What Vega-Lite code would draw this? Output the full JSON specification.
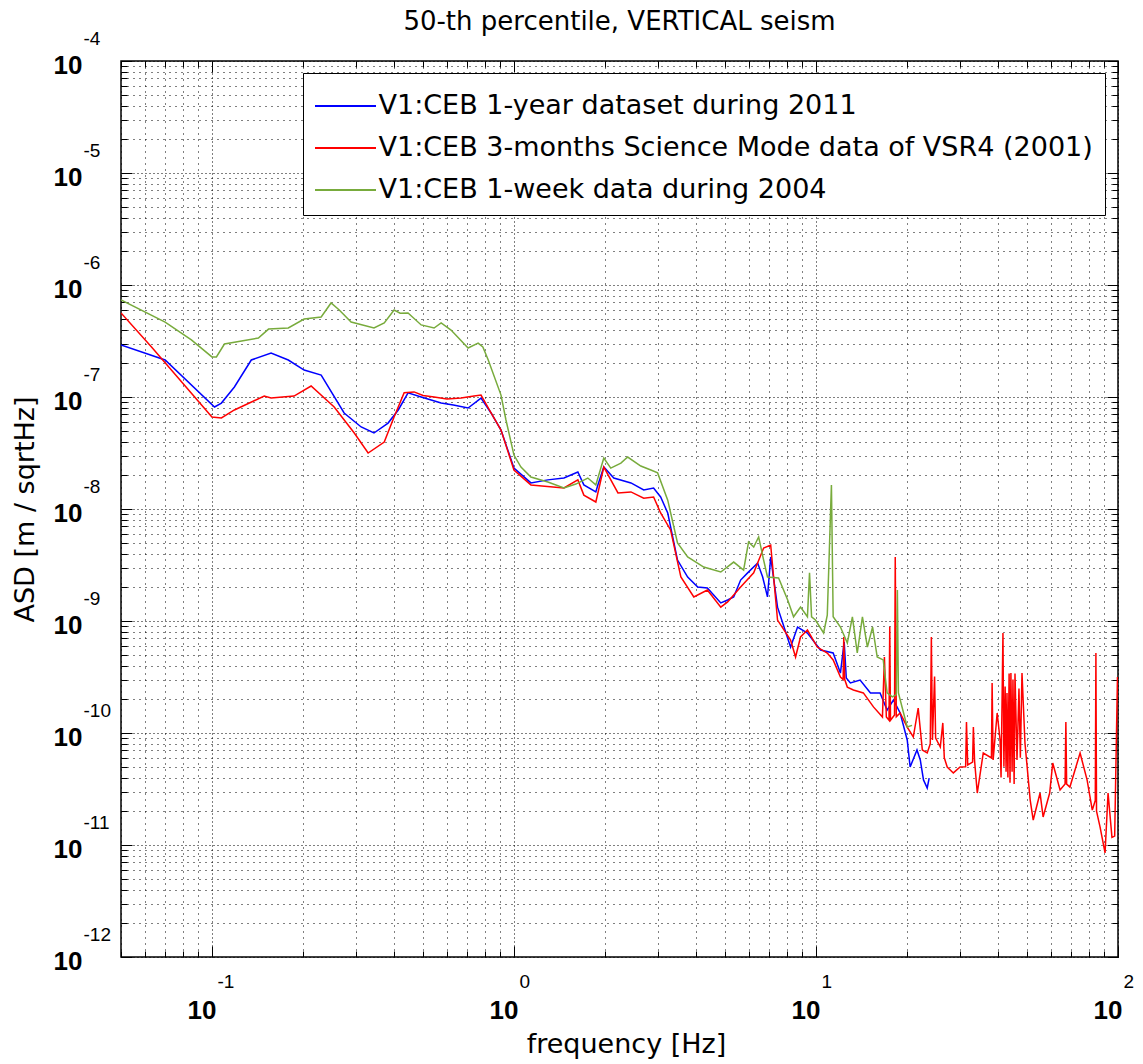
{
"$schema": "https://vega.github.io/schema/vega-lite/v6.json",
"width": 997, "height": 896,
"autosize": {"type": "none"},
"padding": {"left": 121, "top": 61, "right": 25, "bottom": 107},
"background": "white",
"title": {"text": "50-th percentile, VERTICAL seism", "font": "DejaVu Sans", "fontSize": 26, "fontWeight": "normal", "color": "black", "anchor": "middle", "offset": -6},
"data": {"values": [
{"s":"b","f":0.05,"a":2.91e-7},{"s":"b","f":0.07,"a":2.14e-7},{"s":"b","f":0.102,"a":8.14e-8},{"s":"b","f":0.1075,"a":8.83e-8},{"s":"b","f":0.1187,"a":1.228e-7},{"s":"b","f":0.135,"a":2.14e-7},{"s":"b","f":0.157,"a":2.47e-7},{"s":"b","f":0.179,"a":2.14e-7},{"s":"b","f":0.202,"a":1.74e-7},{"s":"b","f":0.23,"a":1.57e-7},{"s":"b","f":0.274,"a":7.2e-8},{"s":"b","f":0.312,"a":5.4e-8},{"s":"b","f":0.344,"a":4.77e-8},{"s":"b","f":0.383,"a":5.85e-8},{"s":"b","f":0.414,"a":7.66e-8},{"s":"b","f":0.446,"a":1.09e-7},{"s":"b","f":0.493,"a":1.0e-7},{"s":"b","f":0.574,"a":8.83e-8},{"s":"b","f":0.63,"a":8.5e-8},{"s":"b","f":0.705,"a":7.98e-8},{"s":"b","f":0.778,"a":9.78e-8},{"s":"b","f":0.84,"a":7.2e-8},{"s":"b","f":0.906,"a":5.07e-8},{"s":"b","f":1.0,"a":2.32e-8},{"s":"b","f":1.138,"a":1.71e-8},{"s":"b","f":1.295,"a":1.82e-8},{"s":"b","f":1.464,"a":1.89e-8},{"s":"b","f":1.628,"a":2.14e-8},{"s":"b","f":1.704,"a":1.64e-8},{"s":"b","f":1.867,"a":1.42e-8},{"s":"b","f":1.896,"a":1.64e-8},{"s":"b","f":1.984,"a":2.37e-8},{"s":"b","f":2.141,"a":1.89e-8},{"s":"b","f":2.44,"a":1.71e-8},{"s":"b","f":2.69,"a":1.48e-8},{"s":"b","f":2.9,"a":1.54e-8},{"s":"b","f":3.06,"a":1.28e-8},{"s":"b","f":3.23,"a":9.21e-9},{"s":"b","f":3.48,"a":3.5e-9},{"s":"b","f":3.76,"a":2.47e-9},{"s":"b","f":4.06,"a":2.01e-9},{"s":"b","f":4.37,"a":1.97e-9},{"s":"b","f":4.84,"a":1.45e-9},{"s":"b","f":5.1,"a":1.54e-9},{"s":"b","f":5.34,"a":1.64e-9},{"s":"b","f":5.63,"a":2.32e-9},{"s":"b","f":5.94,"a":2.69e-9},{"s":"b","f":6.41,"a":3.29e-9},{"s":"b","f":6.66,"a":2.47e-9},{"s":"b","f":6.91,"a":1.64e-9},{"s":"b","f":7.08,"a":3.73e-9},{"s":"b","f":7.46,"a":1.33e-9},{"s":"b","f":8.24,"a":5.85e-10},{"s":"b","f":8.69,"a":8.83e-10},{"s":"b","f":9.37,"a":7.81e-10},{"s":"b","f":10.35,"a":5.51e-10},{"s":"b","f":11.4,"a":5.18e-10},{"s":"b","f":12.05,"a":3.43e-10},{"s":"b","f":12.4,"a":6.5e-10},{"s":"b","f":12.6,"a":3.1e-10},{"s":"b","f":13.0,"a":2.8e-10},{"s":"b","f":14.0,"a":2.97e-10},{"s":"b","f":15.15,"a":2.28e-10},{"s":"b","f":16.3,"a":2.28e-10},{"s":"b","f":17.2,"a":1.6e-10},{"s":"b","f":18.05,"a":1.97e-10},{"s":"b","f":19.0,"a":1.51e-10},{"s":"b","f":20.05,"a":8.66e-11},{"s":"b","f":20.5,"a":4.97e-11},{"s":"b","f":21.6,"a":7.05e-11},{"s":"b","f":22.15,"a":5.74e-11},{"s":"b","f":22.7,"a":3.81e-11},{"s":"b","f":23.35,"a":3.23e-11},{"s":"b","f":23.7,"a":3.96e-11},
{"s":"r","f":0.05,"a":5.63e-7},{"s":"r","f":0.0631,"a":2.8e-7},{"s":"r","f":0.1,"a":6.63e-8},{"s":"r","f":0.1075,"a":6.5e-8},{"s":"r","f":0.1187,"a":7.66e-8},{"s":"r","f":0.149,"a":1.02e-7},{"s":"r","f":0.157,"a":9.78e-8},{"s":"r","f":0.187,"a":1.02e-7},{"s":"r","f":0.213,"a":1.254e-7},{"s":"r","f":0.254,"a":8.14e-8},{"s":"r","f":0.296,"a":4.77e-8},{"s":"r","f":0.329,"a":3.16e-8},{"s":"r","f":0.372,"a":3.96e-8},{"s":"r","f":0.401,"a":6.63e-8},{"s":"r","f":0.433,"a":1.09e-7},{"s":"r","f":0.467,"a":1.11e-7},{"s":"r","f":0.5,"a":1.03e-7},{"s":"r","f":0.544,"a":1.0e-7},{"s":"r","f":0.6,"a":9.6e-8},{"s":"r","f":0.668,"a":9.78e-8},{"s":"r","f":0.738,"a":1.02e-7},{"s":"r","f":0.778,"a":1.04e-7},{"s":"r","f":0.84,"a":7.2e-8},{"s":"r","f":0.906,"a":5.07e-8},{"s":"r","f":1.0,"a":2.23e-8},{"s":"r","f":1.138,"a":1.64e-8},{"s":"r","f":1.464,"a":1.54e-8},{"s":"r","f":1.628,"a":1.82e-8},{"s":"r","f":1.704,"a":1.33e-8},{"s":"r","f":1.867,"a":1.155e-8},{"s":"r","f":1.984,"a":2.37e-8},{"s":"r","f":2.21,"a":1.39e-8},{"s":"r","f":2.44,"a":1.42e-8},{"s":"r","f":2.69,"a":1.25e-8},{"s":"r","f":2.9,"a":1.28e-8},{"s":"r","f":3.06,"a":9.21e-9},{"s":"r","f":3.3,"a":6.5e-9},{"s":"r","f":3.57,"a":2.47e-9},{"s":"r","f":3.94,"a":1.64e-9},{"s":"r","f":4.37,"a":1.89e-9},{"s":"r","f":4.84,"a":1.33e-9},{"s":"r","f":5.1,"a":1.48e-9},{"s":"r","f":5.63,"a":2.01e-9},{"s":"r","f":6.22,"a":2.69e-9},{"s":"r","f":6.71,"a":4.49e-9},{"s":"r","f":7.08,"a":4.77e-9},{"s":"r","f":7.46,"a":1.02e-9},{"s":"r","f":8.24,"a":6.77e-10},{"s":"r","f":8.56,"a":4.77e-10},{"s":"r","f":8.89,"a":7.2e-10},{"s":"r","f":9.37,"a":8.31e-10},{"s":"r","f":10.1,"a":5.85e-10},{"s":"r","f":10.9,"a":5.18e-10},{"s":"r","f":11.4,"a":4.49e-10},{"s":"r","f":12.05,"a":3.16e-10},{"s":"r","f":12.3,"a":3.0e-10},{"s":"r","f":12.36,"a":7.2e-10},{"s":"r","f":12.45,"a":3.0e-10},{"s":"r","f":12.7,"a":2.57e-10},{"s":"r","f":13.3,"a":2.42e-10},{"s":"r","f":14.35,"a":2.28e-10},{"s":"r","f":15.5,"a":1.71e-10},{"s":"r","f":16.6,"a":1.39e-10},{"s":"r","f":16.85,"a":4.77e-10},{"s":"r","f":17.1,"a":1.39e-10},{"s":"r","f":17.45,"a":1.3e-10},{"s":"r","f":17.55,"a":8.9e-10},{"s":"r","f":17.65,"a":1.3e-10},{"s":"r","f":18.2,"a":1.45e-10},{"s":"r","f":18.3,"a":3.73e-9},{"s":"r","f":18.45,"a":1.4e-10},{"s":"r","f":19.0,"a":1.51e-10},{"s":"r","f":20.05,"a":1.13e-10},{"s":"r","f":21.0,"a":9.21e-11},{"s":"r","f":21.8,"a":1.67e-10},{"s":"r","f":22.5,"a":7.05e-11},{"s":"r","f":23.35,"a":6.63e-11},{"s":"r","f":23.9,"a":8e-11},{"s":"r","f":24.1,"a":7.2e-10},{"s":"r","f":24.3,"a":8.66e-11},{"s":"r","f":24.7,"a":3.2e-10},{"s":"r","f":24.9,"a":9e-11},{"s":"r","f":25.8,"a":7.5e-11},{"s":"r","f":26.3,"a":1.23e-10},{"s":"r","f":26.6,"a":6e-11},{"s":"r","f":27.2,"a":4.97e-11},{"s":"r","f":28.5,"a":4.4e-11},{"s":"r","f":30.0,"a":4.97e-11},{"s":"r","f":31.3,"a":5e-11},{"s":"r","f":31.5,"a":1.254e-10},{"s":"r","f":31.8,"a":5.18e-11},{"s":"r","f":33.0,"a":5.5e-11},{"s":"r","f":33.2,"a":1.13e-10},{"s":"r","f":33.5,"a":5.7e-11},{"s":"r","f":34.2,"a":2.91e-11},{"s":"r","f":35.8,"a":6.63e-11},{"s":"r","f":38.1,"a":6e-11},{"s":"r","f":38.3,"a":2.8e-10},{"s":"r","f":38.6,"a":5.74e-11},{"s":"r","f":39.8,"a":1.51e-10},{"s":"r","f":40.7,"a":8.66e-11},{"s":"r","f":41.0,"a":4.0e-11},{"s":"r","f":41.6,"a":7.81e-10},{"s":"r","f":41.9,"a":5e-11},{"s":"r","f":42.3,"a":2.6e-10},{"s":"r","f":42.6,"a":4.5e-11},{"s":"r","f":42.9,"a":2.28e-10},{"s":"r","f":43.2,"a":4e-11},{"s":"r","f":43.6,"a":3.4e-10},{"s":"r","f":43.9,"a":3.6e-11},{"s":"r","f":44.2,"a":3.43e-10},{"s":"r","f":44.6,"a":4.5e-11},{"s":"r","f":44.9,"a":3.0e-10},{"s":"r","f":45.3,"a":3.5e-11},{"s":"r","f":45.6,"a":3.4e-10},{"s":"r","f":46.3,"a":5.74e-11},{"s":"r","f":47.0,"a":2.5e-10},{"s":"r","f":47.5,"a":6e-11},{"s":"r","f":48.1,"a":3.43e-10},{"s":"r","f":49.2,"a":8.14e-11},{"s":"r","f":51.2,"a":2.52e-11},{"s":"r","f":52.4,"a":1.67e-11},{"s":"r","f":55.2,"a":2.91e-11},{"s":"r","f":56.5,"a":1.78e-11},{"s":"r","f":59.4,"a":2.91e-11},{"s":"r","f":60.8,"a":5.4e-11},{"s":"r","f":64.3,"a":3.1e-11},{"s":"r","f":66.8,"a":3.5e-11},{"s":"r","f":67.2,"a":1.254e-10},{"s":"r","f":67.6,"a":3.5e-11},{"s":"r","f":69.3,"a":3.29e-11},{"s":"r","f":74.9,"a":6.63e-11},{"s":"r","f":79.0,"a":3.81e-11},{"s":"r","f":82.2,"a":2.05e-11},{"s":"r","f":84.1,"a":2.5e-11},{"s":"r","f":84.5,"a":5.18e-10},{"s":"r","f":84.9,"a":2e-11},{"s":"r","f":87.2,"a":1.45e-11},{"s":"r","f":90.6,"a":8.49e-12},{"s":"r","f":92.7,"a":2.91e-11},{"s":"r","f":95.5,"a":1.17e-11},{"s":"r","f":97.5,"a":1.2e-11},{"s":"r","f":99.6,"a":3.16e-10},
{"s":"g","f":0.05,"a":7.35e-7},{"s":"g","f":0.07,"a":4.67e-7},{"s":"g","f":0.0855,"a":3.23e-7},{"s":"g","f":0.1,"a":2.28e-7},{"s":"g","f":0.1035,"a":2.28e-7},{"s":"g","f":0.11,"a":2.97e-7},{"s":"g","f":0.1425,"a":3.36e-7},{"s":"g","f":0.154,"a":4.04e-7},{"s":"g","f":0.179,"a":4.13e-7},{"s":"g","f":0.202,"a":4.97e-7},{"s":"g","f":0.23,"a":5.18e-7},{"s":"g","f":0.248,"a":6.91e-7},{"s":"g","f":0.264,"a":5.98e-7},{"s":"g","f":0.289,"a":4.67e-7},{"s":"g","f":0.344,"a":4.13e-7},{"s":"g","f":0.372,"a":4.58e-7},{"s":"g","f":0.401,"a":5.98e-7},{"s":"g","f":0.42,"a":5.6e-7},{"s":"g","f":0.446,"a":5.63e-7},{"s":"g","f":0.493,"a":4.4e-7},{"s":"g","f":0.544,"a":4.13e-7},{"s":"g","f":0.574,"a":4.58e-7},{"s":"g","f":0.619,"a":3.96e-7},{"s":"g","f":0.705,"a":2.74e-7},{"s":"g","f":0.761,"a":3.03e-7},{"s":"g","f":0.789,"a":2.8e-7},{"s":"g","f":0.822,"a":2.14e-7},{"s":"g","f":0.906,"a":1.04e-7},{"s":"g","f":0.941,"a":6.23e-8},{"s":"g","f":1.0,"a":3.03e-8},{"s":"g","f":1.055,"a":2.37e-8},{"s":"g","f":1.138,"a":1.93e-8},{"s":"g","f":1.295,"a":1.74e-8},{"s":"g","f":1.464,"a":1.54e-8},{"s":"g","f":1.603,"a":1.67e-8},{"s":"g","f":1.756,"a":1.89e-8},{"s":"g","f":1.867,"a":1.64e-8},{"s":"g","f":1.984,"a":2.85e-8},{"s":"g","f":2.092,"a":2.32e-8},{"s":"g","f":2.26,"a":2.57e-8},{"s":"g","f":2.38,"a":2.91e-8},{"s":"g","f":2.63,"a":2.42e-8},{"s":"g","f":2.84,"a":2.23e-8},{"s":"g","f":2.99,"a":2.1e-8},{"s":"g","f":3.23,"a":1.2e-8},{"s":"g","f":3.48,"a":4.97e-9},{"s":"g","f":3.76,"a":3.73e-9},{"s":"g","f":4.25,"a":3.03e-9},{"s":"g","f":4.84,"a":2.74e-9},{"s":"g","f":5.34,"a":3.36e-9},{"s":"g","f":5.76,"a":2.85e-9},{"s":"g","f":5.98,"a":5.07e-9},{"s":"g","f":6.22,"a":4.58e-9},{"s":"g","f":6.46,"a":5.63e-9},{"s":"g","f":6.71,"a":3.5e-9},{"s":"g","f":6.91,"a":2.47e-9},{"s":"g","f":7.52,"a":2.42e-9},{"s":"g","f":8.06,"a":1.54e-9},{"s":"g","f":8.43,"a":1.09e-9},{"s":"g","f":8.89,"a":1.33e-9},{"s":"g","f":9.37,"a":1.09e-9},{"s":"g","f":9.52,"a":2.69e-9},{"s":"g","f":9.67,"a":1.09e-9},{"s":"g","f":9.96,"a":1.02e-9},{"s":"g","f":10.6,"a":7.81e-10},{"s":"g","f":10.9,"a":1.13e-9},{"s":"g","f":11.25,"a":1.64e-8},{"s":"g","f":11.4,"a":1.09e-9},{"s":"g","f":12.05,"a":8.83e-10},{"s":"g","f":12.7,"a":6.36e-10},{"s":"g","f":13.2,"a":1.09e-9},{"s":"g","f":13.7,"a":5.18e-10},{"s":"g","f":14.25,"a":1.09e-9},{"s":"g","f":14.8,"a":5.85e-10},{"s":"g","f":15.4,"a":8.83e-10},{"s":"g","f":15.95,"a":4.77e-10},{"s":"g","f":16.7,"a":4.49e-10},{"s":"g","f":17.2,"a":2.28e-10},{"s":"g","f":17.9,"a":2.1e-10},{"s":"g","f":18.45,"a":2.2e-10},{"s":"g","f":18.6,"a":1.89e-9},{"s":"g","f":18.75,"a":2.28e-10},{"s":"g","f":19.5,"a":1.51e-10},{"s":"g","f":20.05,"a":1.13e-10},{"s":"g","f":20.8,"a":1.17e-10}
]},
"layer": [
{
"mark": {"type": "line", "strokeWidth": 1.5, "clip": true},
"encoding": {
"x": {"field": "f", "type": "quantitative",
"scale": {"type": "log", "domain": [0.05, 100], "nice": false},
"axis": {"orient": "bottom", "values": [0.05,0.06,0.07,0.08,0.09,0.1,0.2,0.3,0.4,0.5,0.6,0.7,0.8,0.9,1,2,3,4,5,6,7,8,9,10,20,30,40,50,60,70,80,90,100],
"title": "frequency [Hz]", "titleFont": "DejaVu Sans", "titleFontSize": 27, "titleFontWeight": "normal", "titleColor": "black", "titleX": 505, "titleY": 95, "titleBaseline": "alphabetic", "titleAlign": "center",
"labelExpr": "abs(log(datum.value)/LN10 - round(log(datum.value)/LN10)) < 0.001 ? '10' : ''",
"labelFont": "Liberation Sans", "labelFontWeight": "bold", "labelFontSize": 26, "labelColor": "black", "labelBaseline": "top", "labelAlign": "right", "labelOffset": 4, "labelPadding": 40, "labelOverlap": false, "labelFlush": false, "labelBound": false,
"ticks": false, "domain": false, "grid": true, "gridColor": "black", "gridWidth": 1, "gridOpacity": 1,
"gridDash": {"condition": {"test": "abs(log(datum.value)/LN10 - round(log(datum.value)/LN10)) < 0.001", "value": [1, 3]}, "value": [1, 5]}}},
"y": {"field": "a", "type": "quantitative",
"scale": {"type": "log", "domain": [1e-12, 1e-4], "nice": false},
"axis": {"orient": "left", "values": [1e-12,2e-12,3e-12,4e-12,5e-12,6e-12,7e-12,8e-12,9e-12,1e-11,2e-11,3e-11,4e-11,5e-11,6e-11,7e-11,8e-11,9e-11,1e-10,2e-10,3e-10,4e-10,5e-10,6e-10,7e-10,8e-10,9e-10,1e-9,2e-9,3e-9,4e-9,5e-9,6e-9,7e-9,8e-9,9e-9,1e-8,2e-8,3e-8,4e-8,5e-8,6e-8,7e-8,8e-8,9e-8,1e-7,2e-7,3e-7,4e-7,5e-7,6e-7,7e-7,8e-7,9e-7,1e-6,2e-6,3e-6,4e-6,5e-6,6e-6,7e-6,8e-6,9e-6,1e-5,2e-5,3e-5,4e-5,5e-5,6e-5,7e-5,8e-5,9e-5,1e-4],
"title": "ASD [m / sqrtHz]", "titleFont": "DejaVu Sans", "titleFontSize": 27, "titleFontWeight": "normal", "titleColor": "black", "titleX": -88, "titleY": 448, "titleAngle": -90, "titleBaseline": "alphabetic", "titleAlign": "center",
"labelExpr": "abs(log(datum.value)/LN10 - round(log(datum.value)/LN10)) < 0.001 ? '10' : ''",
"labelFont": "Liberation Sans", "labelFontWeight": "bold", "labelFontSize": 26, "labelColor": "black", "labelBaseline": "middle", "labelAlign": "right", "labelOffset": 4, "labelPadding": 39, "labelOverlap": false, "labelFlush": false, "labelBound": false,
"ticks": false, "domain": false, "grid": true, "gridColor": "black", "gridWidth": 1, "gridOpacity": 1,
"gridDash": {"condition": {"test": "abs(log(datum.value)/LN10 - round(log(datum.value)/LN10)) < 0.001", "value": [1, 3]}, "value": [1, 5]}}},
"color": {"field": "s", "type": "nominal",
"scale": {"domain": ["b", "r", "g"], "range": ["#0000ff", "#ff0000", "#78ab3c"]},
"legend": {"orient": "none", "legendX": 182, "legendY": 12, "title": null,
"labelExpr": "datum.label == 'b' ? 'V1:CEB 1-year dataset during 2011' : datum.label == 'r' ? 'V1:CEB 3-months Science Mode data of VSR4 (2001)' : 'V1:CEB 1-week data during 2004'",
"symbolType": "M-1.525,0H1.525", "symbolSize": 1600, "symbolStrokeWidth": 2, "symbolOffset": 9.5, "labelOffset": 12,
"labelFont": "DejaVu Sans", "labelFontSize": 27, "labelColor": "black", "labelLimit": 0, "rowPadding": 8, "padding": 12,
"strokeColor": "black", "fillColor": "white", "direction": "vertical"}}
}
},
{
"mark": {"type": "point", "opacity": 0},
"encoding": {
"x": {"field": "f", "type": "quantitative", "scale": {"type": "log", "domain": [0.05, 100], "nice": false},
"axis": {"orient": "bottom", "values": [0.1, 1, 10, 100], "title": null,
"labelExpr": "'' + round(log(datum.value)/LN10)",
"labelFont": "Liberation Sans", "labelFontSize": 19, "labelColor": "black", "labelBaseline": "top", "labelAlign": "left", "labelOffset": 5, "labelPadding": 15, "labelOverlap": false, "labelFlush": false, "labelBound": false,
"ticks": false, "domain": false, "grid": false}},
"y": {"field": "a", "type": "quantitative", "scale": {"type": "log", "domain": [1e-12, 1e-4], "nice": false},
"axis": {"orient": "left", "values": [1e-12,1e-11,1e-10,1e-9,1e-8,1e-7,1e-6,1e-5,1e-4], "title": null,
"labelExpr": "'' + round(log(datum.value)/LN10)",
"labelFont": "Liberation Sans", "labelFontSize": 19, "labelColor": "black", "labelBaseline": "middle", "labelAlign": "left", "labelOffset": -23, "labelPadding": 38, "labelOverlap": false, "labelFlush": false, "labelBound": false,
"ticks": false, "domain": false, "grid": false}}
}
},
{
"mark": {"type": "point", "opacity": 0},
"encoding": {
"x": {"field": "f", "type": "quantitative", "scale": {"type": "log", "domain": [0.05, 100], "nice": false},
"axis": {"orient": "top", "values": [0.05,0.06,0.07,0.08,0.09,0.1,0.2,0.3,0.4,0.5,0.6,0.7,0.8,0.9,1,2,3,4,5,6,7,8,9,10,20,30,40,50,60,70,80,90,100], "title": null, "labels": false, "domain": false, "grid": false, "ticks": true, "tickColor": "black", "tickWidth": 1,
"tickSize": {"condition": {"test": "abs(log(datum.value)/LN10 - round(log(datum.value)/LN10)) < 0.001", "value": -11}, "value": -6}}},
"y": {"field": "a", "type": "quantitative", "scale": {"type": "log", "domain": [1e-12, 1e-4], "nice": false},
"axis": {"orient": "right", "values": [1e-12,2e-12,3e-12,4e-12,5e-12,6e-12,7e-12,8e-12,9e-12,1e-11,2e-11,3e-11,4e-11,5e-11,6e-11,7e-11,8e-11,9e-11,1e-10,2e-10,3e-10,4e-10,5e-10,6e-10,7e-10,8e-10,9e-10,1e-9,2e-9,3e-9,4e-9,5e-9,6e-9,7e-9,8e-9,9e-9,1e-8,2e-8,3e-8,4e-8,5e-8,6e-8,7e-8,8e-8,9e-8,1e-7,2e-7,3e-7,4e-7,5e-7,6e-7,7e-7,8e-7,9e-7,1e-6,2e-6,3e-6,4e-6,5e-6,6e-6,7e-6,8e-6,9e-6,1e-5,2e-5,3e-5,4e-5,5e-5,6e-5,7e-5,8e-5,9e-5,1e-4], "title": null, "labels": false, "domain": false, "grid": false, "ticks": true, "tickColor": "black", "tickWidth": 1,
"tickSize": {"condition": {"test": "abs(log(datum.value)/LN10 - round(log(datum.value)/LN10)) < 0.001", "value": -11}, "value": -6}}}
}
},
{
"mark": {"type": "point", "opacity": 0},
"encoding": {
"x": {"field": "f", "type": "quantitative", "scale": {"type": "log", "domain": [0.05, 100], "nice": false},
"axis": {"orient": "bottom", "values": [0.05,0.06,0.07,0.08,0.09,0.1,0.2,0.3,0.4,0.5,0.6,0.7,0.8,0.9,1,2,3,4,5,6,7,8,9,10,20,30,40,50,60,70,80,90,100], "title": null, "labels": false, "domain": false, "grid": false, "ticks": true, "tickColor": "black", "tickWidth": 1,
"tickSize": {"condition": {"test": "abs(log(datum.value)/LN10 - round(log(datum.value)/LN10)) < 0.001", "value": -11}, "value": -6}}},
"y": {"field": "a", "type": "quantitative", "scale": {"type": "log", "domain": [1e-12, 1e-4], "nice": false},
"axis": {"orient": "left", "values": [1e-12,2e-12,3e-12,4e-12,5e-12,6e-12,7e-12,8e-12,9e-12,1e-11,2e-11,3e-11,4e-11,5e-11,6e-11,7e-11,8e-11,9e-11,1e-10,2e-10,3e-10,4e-10,5e-10,6e-10,7e-10,8e-10,9e-10,1e-9,2e-9,3e-9,4e-9,5e-9,6e-9,7e-9,8e-9,9e-9,1e-8,2e-8,3e-8,4e-8,5e-8,6e-8,7e-8,8e-8,9e-8,1e-7,2e-7,3e-7,4e-7,5e-7,6e-7,7e-7,8e-7,9e-7,1e-6,2e-6,3e-6,4e-6,5e-6,6e-6,7e-6,8e-6,9e-6,1e-5,2e-5,3e-5,4e-5,5e-5,6e-5,7e-5,8e-5,9e-5,1e-4], "title": null, "labels": false, "domain": false, "grid": false, "ticks": true, "tickColor": "black", "tickWidth": 1,
"tickSize": {"condition": {"test": "abs(log(datum.value)/LN10 - round(log(datum.value)/LN10)) < 0.001", "value": -11}, "value": -6}}}
}
}
],
"resolve": {"axis": {"x": "independent", "y": "independent"}},
"config": {"view": {"stroke": "black", "strokeWidth": 1.5}}
}
